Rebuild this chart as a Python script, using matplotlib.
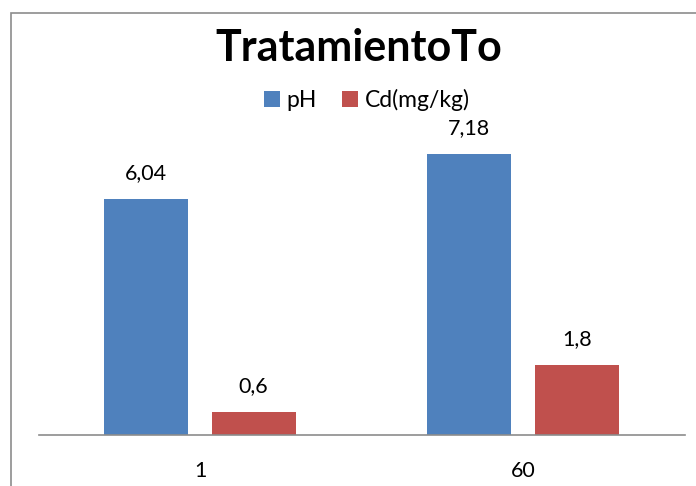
import matplotlib
matplotlib.use("Agg")
import matplotlib.pyplot as plt
import matplotlib.patches as mpatches
import numpy as np

categories = ["1", "60"]
ph_values = [6.04, 7.18]
cd_values = [0.6, 1.8]
ph_labels = ["6,04", "7,18"]
cd_labels = ["0,6", "1,8"]
series_names = ["pH", "Cd(mg/kg)"]

BLUE = "#4f81bd"
RED = "#c0504d"
FONT = "Lato"

W, H = 696, 486
fig = plt.figure(figsize=(W / 100, H / 100), dpi=100)

# outer chart frame (runs off the right and bottom edges)
fig.patches.append(mpatches.Rectangle((10.5 / W, -0.1), 1.2, 1 - 13 / H + 0.1,
                                      transform=fig.transFigure, fill=False,
                                      edgecolor="#8c8c8c", linewidth=1.2))

left, right = 38.5, 684.5
bottom, top = 435, 122
ax = fig.add_axes([left / W, 1 - bottom / H, (right - left) / W, (bottom - top) / H])

x = np.arange(len(categories))
bw = 0.26
off = 0.166
b1 = ax.bar(x - off, ph_values, bw, color=BLUE, label=series_names[0])
b2 = ax.bar(x + off, cd_values, bw, color=RED, label=series_names[1])

for rect, lab in zip(b1, ph_labels):
    ax.text(rect.get_x() + rect.get_width() / 2, rect.get_height() + 0.4, lab,
            ha="center", va="bottom", fontsize=15.5, family=FONT)
for rect, lab in zip(b2, cd_labels):
    ax.text(rect.get_x() + rect.get_width() / 2, rect.get_height() + 0.4, lab,
            ha="center", va="bottom", fontsize=15.5, family=FONT)

ax.set_xlim(-0.5, len(categories) - 0.5)
ax.set_ylim(0, 8)
ax.set_xticks(x)
ax.set_xticklabels(categories, fontsize=15.5, family=FONT)
ax.tick_params(axis="x", length=0, pad=19)
ax.set_yticks([])
for s in ["left", "right", "top"]:
    ax.spines[s].set_visible(False)
ax.spines["bottom"].set_color("#8c8c8c")
ax.spines["bottom"].set_linewidth(1.2)
ax.patch.set_alpha(0)

fig.text(359 / W, 1 - 48 / H, "TratamientoTo", ha="center", va="center",
         fontsize=31, fontweight="bold", family=FONT)

fig.legend(handles=[b1, b2], labels=series_names, loc="center",
           bbox_to_anchor=(367 / W, 1 - 100 / H), ncol=2, frameon=False,
           prop={"family": FONT, "size": 16.5}, handlelength=0.7, handleheight=0.7,
           handletextpad=0.3, columnspacing=1.1)

fig.savefig("out.png", dpi=100)
